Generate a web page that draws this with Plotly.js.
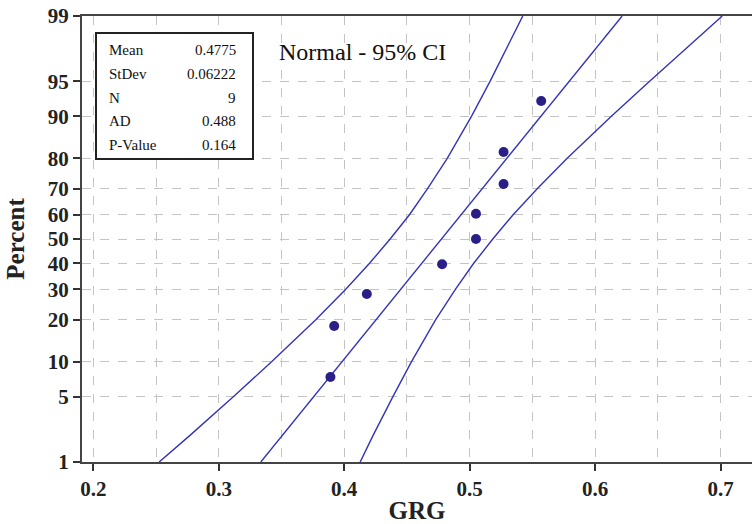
<!DOCTYPE html>
<html>
<head>
<meta charset="utf-8">
<script src="https://cdn.plot.ly/plotly-3.0.1.min.js"></script>
<style>
  html, body { margin: 0; padding: 0; background: #ffffff; }
  #chart { width: 752px; height: 524px; }
</style>
</head>
<body>
<div id="chart"></div>
<script>
// ---- data ----
const grgValues = [0.389, 0.392, 0.418, 0.478, 0.505, 0.505, 0.527, 0.527, 0.557];
const percentValues = [7.5, 18.2, 28.3, 39.6, 50, 60.4, 71.7, 81.8, 92.5];

// fitted line end points (GRG at 1% and 99%)
const fitPercent = [1, 99];
const fitGRG = [0.3335, 0.6215];

// 95% confidence band (GRG read at each percent level)
const bandPercent = [1, 2, 5, 10, 20, 30, 40, 50, 60, 70, 80, 90, 95, 98, 99];
const bandLower   = [0.2525, 0.2766, 0.3116, 0.3421, 0.3773, 0.4012, 0.4202, 0.4366, 0.4520, 0.4664, 0.4821, 0.5015, 0.5162, 0.5322, 0.5423];
const bandUpper   = [0.4127, 0.4228, 0.4388, 0.4535, 0.4729, 0.4886, 0.5032, 0.5184, 0.5346, 0.5538, 0.5777, 0.6129, 0.6434, 0.6784, 0.7013];

// axis ticks
const yTickPercents = [1, 5, 10, 20, 30, 40, 50, 60, 70, 80, 90, 95, 99];
const yTickLabels = ["1", "5", "10", "20", "30", "40", "50", "60", "70", "80", "90", "95", "99"];

// stats box
const statNames = ["Mean", "StDev", "N", "AD", "P-Value"];
const statValues = ["0.4775", "0.06222", "9", "0.488", "0.164"];

// ---- probability (normal quantile) scale for the y axis ----
function probit(pct) {
  const p = pct / 100;
  const a = [-3.969683028665376e+01, 2.209460984245205e+02, -2.759285104469687e+02,
             1.383577518672690e+02, -3.066479806614716e+01, 2.506628277459239e+00];
  const b = [-5.447609879822406e+01, 1.615858368580409e+02, -1.556989798598866e+02,
             6.680131188771972e+01, -1.328068155288572e+01];
  const c = [-7.784894002430293e-03, -3.223964580411365e-01, -2.400758277161838e+00,
             -2.549671010115819e+00, 4.374664141464968e+00, 2.938163982698783e+00];
  const d = [7.784695709041462e-03, 3.224671290700398e-01, 2.445134137142996e+00,
             3.754408661907416e+00];
  const pl = 0.02425, ph = 1 - pl;
  let q, r;
  if (p < pl) {
    q = Math.sqrt(-2 * Math.log(p));
    return (((((c[0]*q+c[1])*q+c[2])*q+c[3])*q+c[4])*q+c[5]) / ((((d[0]*q+d[1])*q+d[2])*q+d[3])*q+1);
  } else if (p <= ph) {
    q = p - 0.5; r = q * q;
    return (((((a[0]*r+a[1])*r+a[2])*r+a[3])*r+a[4])*r+a[5])*q / (((((b[0]*r+b[1])*r+b[2])*r+b[3])*r+b[4])*r+1);
  } else {
    q = Math.sqrt(-2 * Math.log(1 - p));
    return -(((((c[0]*q+c[1])*q+c[2])*q+c[3])*q+c[4])*q+c[5]) / ((((d[0]*q+d[1])*q+d[2])*q+d[3])*q+1);
  }
}
const Z = arr => arr.map(probit);

const lineColor = "#3434b8";
const dotColor = "#2a1f86";
const serif = "Liberation Serif, Times New Roman, serif";
const gridColor = "#c4c4c4";

const traces = [
  { x: bandLower, y: Z(bandPercent), mode: "lines", line: { color: lineColor, width: 1.4 }, hoverinfo: "skip", showlegend: false },
  { x: bandUpper, y: Z(bandPercent), mode: "lines", line: { color: lineColor, width: 1.4 }, hoverinfo: "skip", showlegend: false },
  { x: fitGRG, y: Z(fitPercent), mode: "lines", line: { color: lineColor, width: 1.4 }, hoverinfo: "skip", showlegend: false },
  { x: grgValues, y: Z(percentValues), mode: "markers", marker: { color: dotColor, size: 10, symbol: "circle" }, showlegend: false },
  // invisible helper on the grid axis so that it is drawn
  { x: [0.3], y: [0], xaxis: "x2", mode: "markers", marker: { opacity: 0 }, hoverinfo: "skip", showlegend: false }
];

// plot area in pixels, for placing the stats box
const L = 82, T = 16, W = 670, H = 446;
const px = x => (x - L) / W;
const py = y => (T + H - y) / H;

const annotations = [];
statNames.forEach((s, i) => {
  const yy = py(50 + i * 23.8);
  annotations.push({ xref: "paper", yref: "paper", x: px(107), y: yy, xanchor: "left", yanchor: "middle", text: s, showarrow: false, font: { family: serif, size: 15, color: "#111" } });
  annotations.push({ xref: "paper", yref: "paper", x: px(238), y: yy, xanchor: "right", yanchor: "middle", text: statValues[i], showarrow: false, font: { family: serif, size: 15, color: "#111" } });
});
annotations.push({ xref: "paper", yref: "paper", x: px(277), y: py(52), xanchor: "left", yanchor: "middle", text: "Normal - 95% CI", showarrow: false, font: { family: serif, size: 24, color: "#111" } });

const xRange = [0.191, 0.725];

const layout = {
  width: 752, height: 524,
  margin: { l: L, r: 0, t: T, b: 524 - T - H },
  paper_bgcolor: "#ffffff", plot_bgcolor: "#ffffff",
  showlegend: false,
  xaxis: {
    range: xRange,
    tick0: 0.2, dtick: 0.1, tickformat: ".1f",
    ticks: "outside", ticklen: 7, tickwidth: 2, tickcolor: "#333",
    showline: true, linecolor: "#444", linewidth: 2, mirror: true,
    showgrid: false,
    zeroline: false,
    tickfont: { family: serif, size: 21, color: "#222", weight: "bold" },
    title: { text: "<b>GRG</b>", font: { family: serif, size: 25, color: "#222" }, standoff: 2 }
  },
  xaxis2: {
    overlaying: "x", range: xRange, tick0: 0.2, dtick: 0.05,
    showticklabels: false, ticks: "", showline: false, zeroline: false,
    showgrid: true, gridcolor: gridColor, griddash: "dash", gridwidth: 1
  },
  yaxis: {
    range: [probit(1), probit(99)],
    tickvals: Z(yTickPercents), ticktext: yTickLabels,
    ticks: "outside", ticklen: 7, tickwidth: 2, tickcolor: "#333",
    showline: true, linecolor: "#444", linewidth: 2,
    showgrid: true, gridcolor: gridColor, griddash: "dash", gridwidth: 1,
    zeroline: false,
    tickfont: { family: serif, size: 21, color: "#222", weight: "bold" },
    title: { text: "<b>Percent</b>", font: { family: serif, size: 25, color: "#222" }, standoff: 16 }
  },
  shapes: [
    { type: "rect", xref: "paper", yref: "paper", x0: px(96), x1: px(253), y0: py(159), y1: py(33), line: { color: "#222", width: 2 }, fillcolor: "#ffffff", layer: "above" }
  ],
  annotations: annotations
};

Plotly.newPlot("chart", traces, layout, { displayModeBar: false, staticPlot: true });
</script>
</body>
</html>
